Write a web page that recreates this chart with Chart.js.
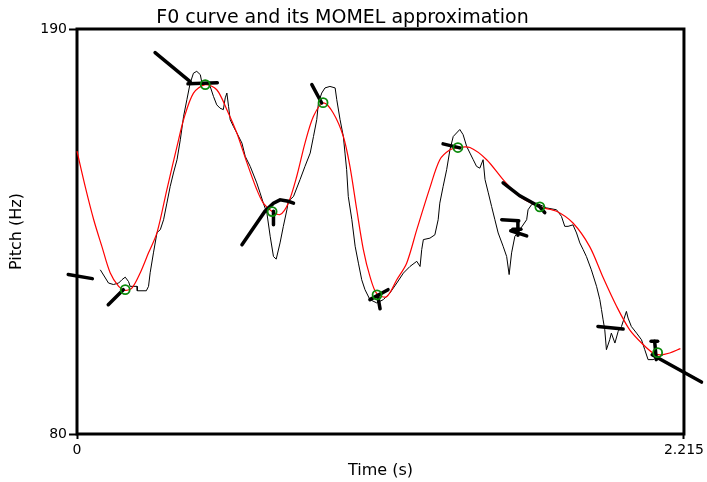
<!DOCTYPE html>
<html><head><meta charset="utf-8">
<script src="https://cdn.jsdelivr.net/npm/chart.js@4/dist/chart.umd.min.js"></script>
<style>html,body{margin:0;padding:0;background:#fff}#wrap{width:707px;height:482px}</style>
</head><body><div id="wrap"><canvas id="c" width="707" height="482"></canvas></div>
<script>
const xTickValues = [0, 2.215];
const yTickValues = [80, 190];

// raw F0 curve (s, Hz)
const f0Time = [0.085,0.115,0.133,0.152,0.164,0.176,0.188,0.194,0.219,0.220,0.253,0.261,0.267,0.279,0.292,0.304,0.316,0.328,0.340,0.352,0.365,0.377,0.389,0.401,0.413,0.425,0.437,0.450,0.456,0.474,0.486,0.498,0.510,0.522,0.534,0.541,0.547,0.553,0.559,0.571,0.583,0.602,0.614,0.632,0.656,0.668,0.680,0.693,0.705,0.717,0.727,0.741,0.753,0.766,0.771,0.790,0.814,0.832,0.851,0.863,0.875,0.881,0.893,0.905,0.923,0.942,0.948,0.960,0.972,0.978,0.984,0.990,1.003,1.015,1.027,1.039,1.051,1.069,1.094,1.118,1.142,1.167,1.191,1.215,1.240,1.252,1.258,1.264,1.288,1.306,1.318,1.324,1.336,1.349,1.361,1.373,1.397,1.409,1.422,1.434,1.446,1.458,1.470,1.482,1.489,1.501,1.513,1.525,1.537,1.555,1.568,1.577,1.586,1.598,1.616,1.641,1.646,1.659,1.677,1.714,1.750,1.768,1.780,1.792,1.810,1.823,1.835,1.847,1.859,1.877,1.896,1.908,1.914,1.920,1.926,1.932,1.944,1.950,1.963,1.975,1.987,2.005,2.011,2.023,2.042,2.060,2.072,2.084,2.102,2.127,2.139];
const f0Hz = [124.6,121.0,120.6,121.0,121.9,122.6,121.4,120.1,120.1,118.9,118.9,120.1,123.8,129.2,134.7,135.5,138.2,142.7,147.2,150.9,154.5,159.9,166.3,170.8,175.3,178.0,178.5,177.6,175.3,175.3,174.4,171.7,169.4,168.5,168.1,171.3,172.6,169.0,165.4,163.5,161.8,159.0,155.4,152.7,148.2,145.5,142.7,140.0,133.7,128.2,127.5,131.9,136.4,140.9,143.2,144.5,149.1,152.7,156.3,160.8,165.4,169.9,172.6,174.0,174.4,174.0,170.8,165.4,160.8,156.3,151.8,144.5,138.2,131.0,126.4,121.9,119.2,116.5,115.6,116.5,118.3,121.0,123.7,125.5,126.9,125.5,130.1,132.8,133.2,134.1,138.2,142.7,147.2,151.8,157.2,160.8,162.7,161.3,158.1,156.3,154.5,152.7,152.2,154.5,149.1,145.5,141.8,138.2,134.6,131.0,128.2,123.3,129.2,133.7,135.5,138.2,140.9,142.3,142.7,141.4,140.9,139.1,136.4,136.4,136.8,134.6,131.9,130.1,128.2,124.6,120.1,116.5,113.8,111.0,108.3,102.9,105.6,107.4,104.7,107.9,109.2,113.3,111.5,109.2,107.4,105.6,102.9,100.2,100.2,101.1,101.5];

// MOMEL approximation curve (s, Hz)
const momelTime = [0.000,0.030,0.061,0.091,0.121,0.152,0.176,0.201,0.231,0.261,0.292,0.328,0.365,0.389,0.425,0.468,0.510,0.547,0.583,0.620,0.656,0.680,0.711,0.741,0.771,0.802,0.832,0.863,0.899,0.935,0.972,0.996,1.021,1.045,1.069,1.094,1.130,1.167,1.203,1.240,1.288,1.324,1.361,1.389,1.434,1.495,1.555,1.616,1.689,1.750,1.810,1.871,1.920,1.969,2.017,2.066,2.102,2.127,2.163,2.202];
const momelHz = [156.8,147.2,138.2,130.9,123.8,120.1,119.0,119.7,123.8,129.2,134.7,146.4,158.1,165.4,172.6,174.9,173.5,168.1,161.8,153.7,146.4,142.7,140.5,139.6,142.7,150.0,159.0,166.3,169.9,167.2,160.8,152.7,140.9,130.1,122.8,118.1,117.3,121.9,126.4,135.5,146.9,154.5,157.2,157.8,157.8,154.5,149.1,144.5,141.7,140.5,137.3,130.9,122.5,114.7,108.3,104.3,102.0,101.5,102.0,103.2];

// MOMEL target points (s, Hz)
const targetTime = [0.176,0.468,0.712,0.898,1.095,1.390,1.689,2.119];
const targetHz = [119.2,174.9,140.4,170.0,117.8,157.8,141.7,102.1];

// candidate segments (null separates segments)
const candTime = [-0.032,0.056,null, 0.114,0.169,null, 0.285,0.413,null, 0.405,0.512,null, 0.602,0.686,0.717,0.741,0.771,0.790,null, 0.717,0.717,null, 0.857,0.893,null, 1.069,1.135,null, 1.098,1.106,null, 1.336,1.397,null, 1.555,1.616,1.689,1.707,null, 1.550,1.612,null, 1.583,1.641,null, 1.609,1.609,null, 1.590,1.620,null, 1.901,1.993,null, 2.099,2.279,null, 2.108,2.114,null, 2.095,2.119];
const candHz = [123.3,122.2,null, 115.1,119.2,null, 183.6,175.7,null, 175.1,175.4,null, 131.4,140.5,142.7,143.6,143.2,142.7,null, 140.5,136.8,null, 174.9,169.9,null, 116.5,119.2,null, 117.3,114.0,null, 158.8,157.7,null, 148.2,144.7,141.7,140.1,null, 138.2,137.9,null, 135.2,133.8,null, 137.8,134.0,null, 135.6,135.6,null, 109.2,108.5,null, 101.5,94.1,null, 105.2,100.2,null, 105.2,105.2];

function pts(ts, hs) { return ts.map((t, i) => ({x: t, y: hs[i]})); }
function segments(ts, hs) {
  const out = []; let cur = [];
  ts.forEach((t, i) => {
    if (t === null) { if (cur.length) out.push(cur); cur = []; }
    else cur.push({x: t, y: hs[i]});
  });
  if (cur.length) out.push(cur);
  return out;
}

const datasets = [
  {data: pts(f0Time, f0Hz), borderColor: '#000', borderWidth: 1, pointRadius: 0, tension: 0, clip: false, order: 4},
  {data: pts(momelTime, momelHz), borderColor: '#ff0000', borderWidth: 1.2, pointRadius: 0, tension: 0.3, clip: false, order: 3}
];
segments(candTime, candHz).forEach(s => datasets.push({data: s, borderColor: '#000', borderWidth: 3.5, pointRadius: 0, tension: 0, borderCapStyle: 'round', clip: false, order: 2}));
datasets.push({data: pts(targetTime, targetHz), showLine: false, pointRadius: 4.5, pointBorderWidth: 1.8, pointBorderColor: '#0b8a0b', pointBackgroundColor: 'rgba(0,0,0,0)', clip: false, order: 1});

const boxPlugin = {
  id: 'box',
  beforeDatasetsDraw(chart) {
    const {ctx, chartArea: a} = chart;
    ctx.save(); ctx.strokeStyle = '#000'; ctx.lineWidth = 3;
    ctx.strokeRect(a.left, a.top, a.right - a.left, a.bottom - a.top);
    ctx.restore();
  }
};

new Chart(document.getElementById('c'), {
  type: 'line',
  data: {datasets},
  options: {
    responsive: false, devicePixelRatio: 1, animation: false,
    layout: {padding: {left: 0, right: 22, top: 0, bottom: 0}},
    plugins: {
      legend: {display: false}, tooltip: {enabled: false},
      title: {display: true, text: 'F0 curve and its MOMEL approximation', color: '#000',
        font: {family: 'DejaVu Sans', size: 19, weight: 'normal', lineHeight: 1}, padding: {top: 9, bottom: 1}}
    },
    scales: {
      x: {
        type: 'linear', min: 0, max: 2.215,
        afterBuildTicks: s => { s.ticks = xTickValues.map(v => ({value: v})); },
        afterFit: s => { s.height = 48; },
        ticks: {callback: v => String(v), color: '#000', font: {family: 'DejaVu Sans', size: 14}, padding: 3, maxRotation: 0, autoSkip: false},
        grid: {display: true, drawOnChartArea: false, drawTicks: true, tickLength: 5, tickWidth: 2, tickColor: '#000'},
        border: {display: false},
        title: {display: true, text: 'Time (s)', color: '#000', font: {family: 'DejaVu Sans', size: 16, lineHeight: 1.2}, padding: {top: 0, bottom: 2}}
      },
      y: {
        type: 'linear', min: 80, max: 190,
        afterBuildTicks: s => { s.ticks = yTickValues.map(v => ({value: v})); },
        afterFit: s => { s.width = 77; },
        ticks: {callback: v => String(v), color: '#000', font: {family: 'DejaVu Sans', size: 14}, padding: 2, autoSkip: false},
        grid: {display: true, drawOnChartArea: false, drawTicks: true, tickLength: 8, tickWidth: 2, tickColor: '#000'},
        border: {display: false},
        title: {display: true, text: 'Pitch (Hz)', color: '#000', font: {family: 'DejaVu Sans', size: 16, lineHeight: 1.2}, padding: {top: 7, bottom: 0}}
      }
    }
  },
  plugins: [boxPlugin]
});
</script>
</body></html>
